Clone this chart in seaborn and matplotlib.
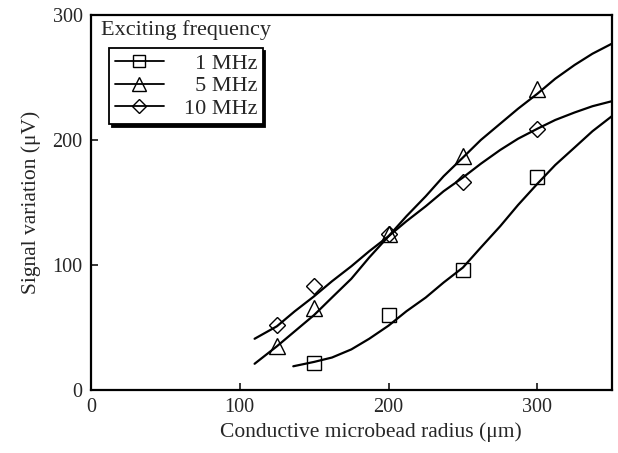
import matplotlib
matplotlib.use("Agg")
import matplotlib.pyplot as plt
from matplotlib.lines import Line2D
import seaborn as sns

# measured points
x_1mhz = [150, 200, 250, 300]
y_1mhz = [22, 60, 96, 170]
x_5mhz = [125, 150, 200, 250, 300]
y_5mhz = [35, 66, 125, 187, 241]
x_10mhz = [125, 150, 200, 250, 300]
y_10mhz = [52, 83, 125, 166, 209]

# fitted curves
cx_1mhz = [136, 150, 162, 175, 187, 200, 212, 225, 237, 250, 262, 275, 287, 300, 312, 325, 337, 350]
cy_1mhz = [19, 22.5, 26, 32.5, 41, 51.5, 63, 74, 86, 98, 114, 131, 148, 165, 180, 194, 207, 219]
cx_5mhz = [110, 125, 137, 150, 162, 175, 187, 200, 212, 225, 237, 250, 262, 275, 287, 300, 312, 325, 337, 350]
cy_5mhz = [21, 35, 47, 60, 74, 89, 106, 123, 139, 155, 171, 186, 200, 213, 225, 237, 249, 260, 269, 277]
cx_10mhz = [110, 125, 137, 150, 162, 175, 187, 200, 212, 225, 237, 250, 262, 275, 287, 300, 312, 325, 337, 350]
cy_10mhz = [41, 51, 63, 75, 87, 99, 111, 123, 135, 147, 159, 170, 181, 192, 201, 209, 216, 222, 227, 231]

labels = ["\u20071 MHz", "\u20075 MHz", "10 MHz"]
markers = ["s", "^", "D"]
msizes = [10, 12, 8]

sns.set_style("ticks")
plt.rcParams["font.family"] = ["Liberation Serif", "DejaVu Serif"]

fig = plt.figure(figsize=(6.18, 4.53), dpi=100)
ax = fig.add_axes([0.147, 0.139, 0.843, 0.828])

curves = [(cx_1mhz, cy_1mhz), (cx_5mhz, cy_5mhz), (cx_10mhz, cy_10mhz)]
points = [(x_1mhz, y_1mhz), (x_5mhz, y_5mhz), (x_10mhz, y_10mhz)]
for (cx, cy), (px, py), m, ms in zip(curves, points, markers, msizes):
    sns.lineplot(x=cx, y=cy, ax=ax, color="black", lw=1.6, estimator=None, sort=False)
    ax.plot(px, py, linestyle="none", marker=m, markersize=ms,
            markerfacecolor="none", markeredgecolor="black", markeredgewidth=1.0)

ax.set_xlim(0, 350)
ax.set_ylim(0, 300)
ax.set_xticks([0, 100, 200, 300])
ax.set_yticks([0, 100, 200, 300])
ax.tick_params(direction="in", length=5, width=1.3, labelsize=14.5, pad=6,
               top=False, right=False)
for s in ax.spines.values():
    s.set_linewidth(1.6)
    s.set_color("black")
ax.set_xlabel("Conductive microbead radius (\u03bcm)", fontsize=15.5, labelpad=6)
ax.xaxis.set_label_coords(0.537, -0.085)
ax.set_ylabel("Signal variation (\u03bcV)", fontsize=15.5, labelpad=8)

ax.text(0.02, 0.96, "Exciting frequency", transform=ax.transAxes,
        fontsize=16, ha="left", va="center")

handles = [Line2D([0], [0], color="black", lw=1.3, marker=m, markersize=ms * 0.85,
                  markerfacecolor="none", markeredgecolor="black", markeredgewidth=1.0)
           for m, ms in zip(markers, msizes)]
leg = ax.legend(handles, labels, loc="upper left", bbox_to_anchor=(0.035, 0.912),
                fontsize=16, frameon=True, fancybox=False, shadow={"color": "black", "alpha": 1.0},
                edgecolor="black", framealpha=1, borderpad=0.25, labelspacing=0.08,
                handlelength=2.2, handletextpad=0.9, borderaxespad=0)
leg.get_frame().set_linewidth(1.3)

fig.savefig("out.png", dpi=100)
